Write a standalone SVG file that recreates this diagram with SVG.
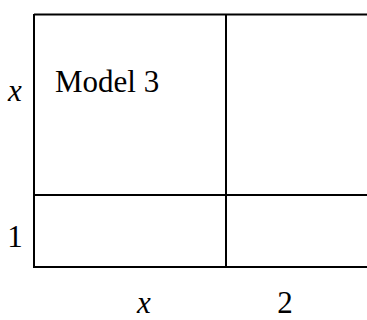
<svg xmlns="http://www.w3.org/2000/svg" width="367" height="320" viewBox="0 0 367 320">
<style>
.ln{stroke:#000;stroke-width:2;fill:none}
.t{font-family:"Liberation Serif","Times New Roman",serif;font-size:31px;fill:#000}
.i{font-style:italic}
</style>
<rect width="367" height="320" fill="#fff"/>
<g id="connectors">
<path class="ln" d="M34,14.5 H368 M34,267 H368 M34,14 V268 M34,195 H368 M226,14 V268"/>
</g>
<g id="cell-model3"><text class="t" x="55" y="92">Model 3</text></g>
<g id="label-x-left"><text class="t i" x="15" y="101" text-anchor="middle">x</text></g>
<g id="label-1"><text class="t" x="15" y="247" text-anchor="middle">1</text></g>
<g id="label-x-bottom"><text class="t i" x="144" y="313" text-anchor="middle">x</text></g>
<g id="label-2"><text class="t" x="285" y="313" text-anchor="middle">2</text></g>
</svg>
